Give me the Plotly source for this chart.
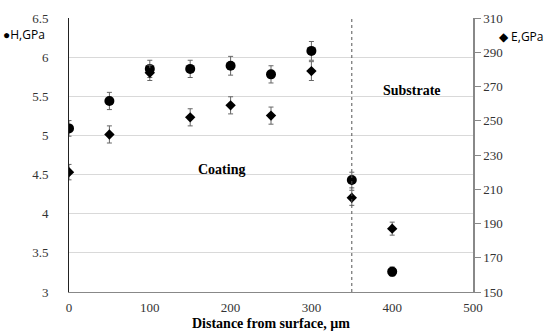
import plotly.graph_objects as go

distance = [0, 50, 100, 150, 200, 250, 300, 350, 400]
hardness = [5.09, 5.44, 5.85, 5.85, 5.89, 5.78, 6.08, 4.43, 3.26]
hardness_err = [0.1, 0.11, 0.11, 0.11, 0.12, 0.11, 0.12, 0.1, 0.06]
modulus = [220, 242, 278, 252, 259, 253, 279, 205, 187]
modulus_err = [4.5, 5, 4.5, 5, 5, 5, 5.5, 4.4, 3.8]

serif = "Liberation Serif, Times New Roman, serif"
sans = "Open Sans, Liberation Sans, sans-serif"

fig = go.Figure()
fig.add_trace(go.Scatter(
    x=distance, y=hardness, mode="markers", name="H,GPa",
    marker=dict(symbol="circle", size=10, color="black"),
    error_y=dict(type="data", array=hardness_err, color="#666666", thickness=1, width=2.5),
))
fig.add_trace(go.Scatter(
    x=distance, y=modulus, mode="markers", name="E,GPa", yaxis="y2",
    marker=dict(symbol="diamond", size=8, color="black"),
    error_y=dict(type="data", array=modulus_err, color="#666666", thickness=1, width=2.5),
))

fig.add_shape(type="line", x0=350, x1=350, y0=3, y1=6.5, xref="x", yref="y",
              line=dict(color="#555555", width=1, dash="dot"))

fig.add_annotation(text="<b>Coating</b>", x=189, y=4.57, xref="x", yref="y", showarrow=False,
                   font=dict(family=serif, size=14, color="black"))
fig.add_annotation(text="<b>Substrate</b>", x=424, y=5.57, xref="x", yref="y", showarrow=False,
                   font=dict(family=serif, size=14, color="black"))
fig.add_annotation(text="●H,GPa", x=-0.168, y=0.94, xref="paper", yref="paper", xanchor="left",
                   yanchor="middle", showarrow=False, font=dict(family=sans, size=12, color="black"))
fig.add_annotation(text="◆ E,GPa", x=1.06, y=0.933, xref="paper", yref="paper", xanchor="left",
                   yanchor="middle", showarrow=False, font=dict(family=sans, size=12, color="black"))
fig.add_annotation(text="<b>Distance from surface, µm</b>", x=0.5, y=-0.114, xref="paper", yref="paper",
                   xanchor="center", yanchor="middle", showarrow=False,
                   font=dict(family=serif, size=14, color="black"))

fig.update_layout(
    width=550, height=333,
    margin=dict(l=69, r=77, t=18, b=41, autoexpand=False),
    paper_bgcolor="white", plot_bgcolor="white",
    showlegend=False,
    font=dict(family=serif, size=13, color="#333333"),
    xaxis=dict(range=[0, 500], dtick=100, showgrid=False, zeroline=False,
               showline=True, linecolor="#888888", linewidth=1,
               ticks="outside", ticklen=3, tickcolor="rgba(0,0,0,0)",
               tickfont=dict(family=serif, size=13, color="#333333")),
    yaxis=dict(range=[3, 6.5], dtick=0.5, showgrid=True, gridcolor="#d9d9d9", gridwidth=1,
               zeroline=False, showline=True, linecolor="#222222", linewidth=1,
               ticks="outside", ticklen=17, tickcolor="rgba(0,0,0,0)",
               tickfont=dict(family=serif, size=13, color="#333333"), tickformat="~g"),
    yaxis2=dict(range=[150, 310], tick0=150, dtick=20, overlaying="y", side="right", showgrid=False,
                zeroline=False, showline=True, linecolor="#888888", linewidth=1.5,
                ticks="outside", ticklen=6, tickcolor="#888888",
                tickfont=dict(family=serif, size=13, color="#333333")),
)

fig.write_html("out.html", config={"displayModeBar": False},
               post_script="document.body.style.margin='0';")
